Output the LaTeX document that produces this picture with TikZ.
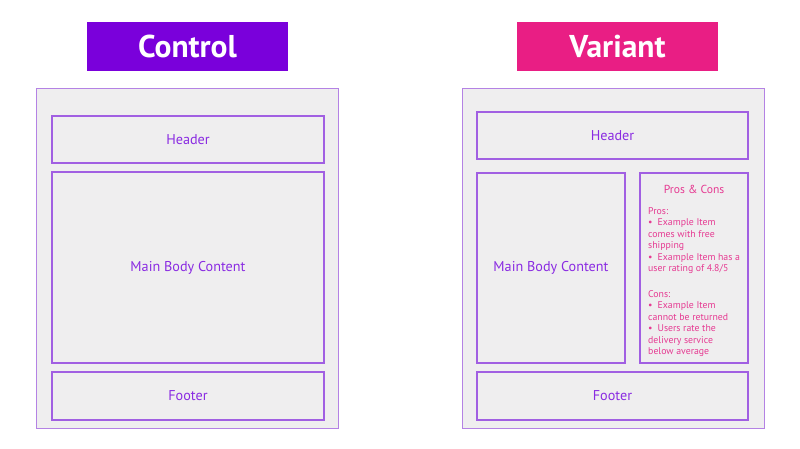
\documentclass[tikz,border=0pt]{standalone}
\usepackage{fontspec}
\setmainfont{PT Sans}
\definecolor{ctrlpurple}{HTML}{7A00DB}
\definecolor{varpink}{HTML}{E91E84}
\definecolor{pagegray}{HTML}{EFEEEF}
\definecolor{framepurple}{HTML}{B482E4}
\definecolor{boxpurple}{HTML}{A15FE2}
\definecolor{textpurple}{HTML}{8A2BE2}
\definecolor{textpink}{HTML}{E63A92}
\tikzset{
  titlebox/.style={minimum width=201pt, minimum height=49pt, inner sep=0pt, text=white, font=\fontsize{31.5}{34}\selectfont\bfseries},
  pageframe/.style={draw=framepurple, line width=1pt, fill=pagegray, minimum width=302pt, minimum height=339pt, inner sep=0pt},
  block/.style={draw=boxpurple, line width=1.2pt, fill=pagegray, inner sep=0pt, text=textpurple, font=\fontsize{14.2}{17}\selectfont},
}
\begin{document}
\begin{tikzpicture}[x=1pt,y=-1pt]
        \useasboundingbox (0,0) rectangle (800,449);
        % control page
        \node[titlebox, fill=ctrlpurple] (ctrltitle) at (187.5,46.5) {Control};
        \node[pageframe] (ctrlpage) at (187,258.5) {};
        \node[block, minimum width=272pt, minimum height=47pt] (ctrlheader) at (188,139.5) {Header};
        \node[block, minimum width=272pt, minimum height=191pt] (ctrlbody) at (188,267.5) {Main Body Content};
        \node[block, minimum width=272pt, minimum height=48pt] (ctrlfooter) at (188,396) {Footer};
        % variant page
        \node[titlebox, fill=varpink] (vartitle) at (617.5,46.5) {Variant};
        \node[pageframe] (varpage) at (613,258.5) {};
        \node[block, minimum width=271pt, minimum height=47pt] (varheader) at (612.5,135.5) {Header};
        \node[block, minimum width=148pt, minimum height=190pt] (varbody) at (551,268) {Main Body Content};
        \node[block, minimum width=108pt, minimum height=190pt] (proscons) at (694,268) {};
        \node[block, minimum width=271pt, minimum height=48pt] (varfooter) at (612.5,396) {Footer};
        % pros and cons panel
        \node[text=textpink, font=\fontsize{11.6}{14}\selectfont] (pctitle) at (694,189) {Pros \& Cons};
        \node[text=textpink, font=\fontsize{9.8}{11.5}\selectfont, align=left, anchor=north west, inner sep=0pt] (pclist) at (648,207) {%
            Pros:\\
            \textbullet\hspace{5pt}Example Item\\
            comes with free\\
            shipping\\
            \textbullet\hspace{5pt}Example Item has a\\
            user rating of 4.8/5\\[14pt]
            Cons:\\
            \textbullet\hspace{5pt}Example Item\\
            cannot be returned\\
            \textbullet\hspace{5pt}Users rate the\\
            delivery service\\
            below average};
    \end{tikzpicture}
\end{document}
